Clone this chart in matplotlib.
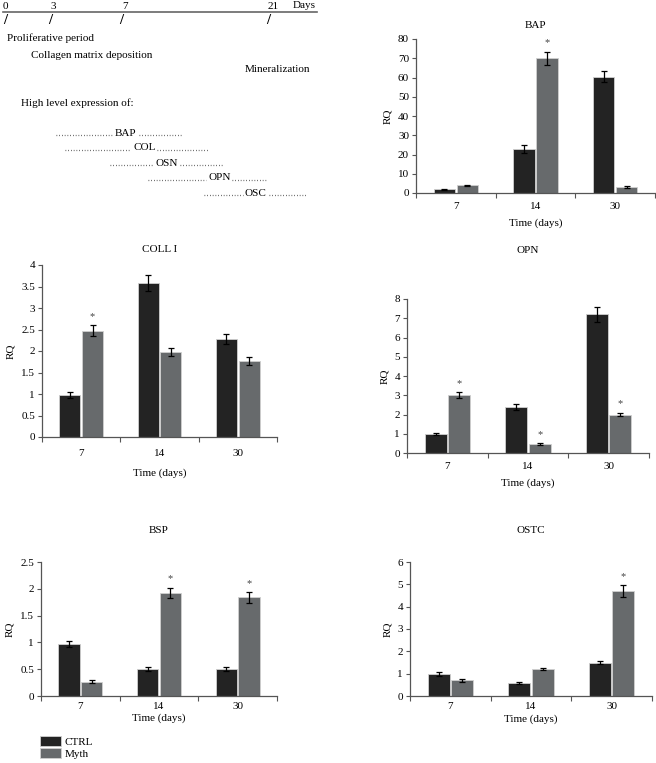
import matplotlib
matplotlib.use("Agg")
import matplotlib.pyplot as plt
from matplotlib.patches import Patch
import numpy as np

plt.rcParams['font.family'] = ['Liberation Serif', 'DejaVu Serif']

# ---------------- data ----------------
days = ["7", "14", "30"]
series_names = ["CTRL", "Myth"]

bap_ctrl = [2.0, 23.0, 60.5]
bap_ctrl_err = [0.3, 2.0, 3.0]
bap_myth = [4.0, 70.0, 3.0]
bap_myth_err = [0.3, 3.5, 0.4]
bap_star = [False, True, False]

col_ctrl = [0.97, 3.58, 2.28]
col_ctrl_err = [0.07, 0.18, 0.12]
col_myth = [2.47, 1.98, 1.77]
col_myth_err = [0.13, 0.10, 0.10]
col_star = [True, False, False]

opn_ctrl = [0.97, 2.40, 7.20]
opn_ctrl_err = [0.05, 0.15, 0.37]
opn_myth = [3.00, 0.45, 2.00]
opn_myth_err = [0.15, 0.06, 0.10]
opn_star = [True, True, True]

bsp_ctrl = [0.97, 0.51, 0.51]
bsp_ctrl_err = [0.05, 0.04, 0.04]
bsp_myth = [0.27, 1.92, 1.84]
bsp_myth_err = [0.03, 0.10, 0.10]
bsp_star = [False, True, True]

ostc_ctrl = [0.98, 0.58, 1.50]
ostc_ctrl_err = [0.08, 0.04, 0.08]
ostc_myth = [0.70, 1.20, 4.70]
ostc_myth_err = [0.06, 0.05, 0.25]
ostc_star = [False, False, True]

bap_ticks = [0, 10, 20, 30, 40, 50, 60, 70, 80]
col_ticks = [0, 0.5, 1, 1.5, 2, 2.5, 3, 3.5, 4]
col_ticklabels = ["0", "0.5", "1", "1.5", "2", "2.5", "3", "3.5", "4"]
opn_ticks = [0, 1, 2, 3, 4, 5, 6, 7, 8]
bsp_ticks = [0, 0.5, 1, 1.5, 2, 2.5]
bsp_ticklabels = ["0", "0.5", "1", "1.5", "2", "2.5"]
ostc_ticks = [0, 1, 2, 3, 4, 5, 6]

timeline_days = ["0", "3", "7", "21"]
phases = ["Proliferative period", "Collagen matrix deposition", "Mineralization"]
markers = ["BAP", "COL", "OSN", "OPN", "OSC"]

# ---------------- style ----------------
W, H = 656, 763
fig = plt.figure(figsize=(W / 100, H / 100), dpi=100)
C_CTRL = "#232323"
C_MYTH = "#676a6c"
AX_COL = "#555555"
FS = 8.0


def px_axes(l, r, t, b):
    return fig.add_axes([l / W, 1 - b / H, (r - l) / W, (b - t) / H])


def bar_panel(ax, title, title_gap, ctrl, ctrl_err, myth, myth_err, stars,
              yticks, yticklabels=None, tick_pad=6.5, label_pad=5):
    x = np.arange(len(days)) + 0.5
    bw = 0.27
    off = 0.145
    ax.bar(x - off, ctrl, bw, color=C_CTRL, edgecolor="#d0d0d0", linewidth=0.6,
           yerr=ctrl_err, error_kw=dict(ecolor="black", elinewidth=0.9, capsize=2.2, capthick=0.9),
           label=series_names[0], zorder=2)
    ax.bar(x + off, myth, bw, color=C_MYTH, edgecolor="#d0d0d0", linewidth=0.6,
           yerr=myth_err, error_kw=dict(ecolor="black", elinewidth=0.9, capsize=2.2, capthick=0.9),
           label=series_names[1], zorder=2)
    for xi, v, e, s in zip(x, myth, myth_err, stars):
        if s:
            ax.annotate("*", (xi + off, v + e), xytext=(0, 3), textcoords="offset points",
                        ha="center", va="bottom", fontsize=7.5, color="#444444")
    ax.set_xlim(0, len(days))
    ax.set_ylim(yticks[0], yticks[-1])
    ax.set_yticks(yticks)
    if yticklabels is not None:
        ax.set_yticklabels(yticklabels)
    ax.set_xticks(x)
    ax.set_xticklabels(days)
    ax.set_xticks(np.arange(len(days) + 1), minor=True)
    ax.tick_params(axis="x", which="major", length=0, pad=tick_pad, labelsize=FS)
    ax.tick_params(axis="x", which="minor", length=3.5, direction="out", color=AX_COL, width=0.8)
    ax.tick_params(axis="y", length=3, color=AX_COL, width=0.8, labelsize=FS, pad=2)
    for sp in ["top", "right"]:
        ax.spines[sp].set_visible(False)
    for sp in ["left", "bottom"]:
        ax.spines[sp].set_color(AX_COL)
        ax.spines[sp].set_linewidth(0.9)
    ax.set_xlabel("Time (days)", fontsize=FS, labelpad=label_pad)
    ax.set_ylabel("RQ", fontsize=FS, labelpad=4)
    ax.set_title(title, fontsize=FS, pad=title_gap)


ax_bap = px_axes(416, 655, 39, 193)
bar_panel(ax_bap, "BAP", 8, bap_ctrl, bap_ctrl_err, bap_myth, bap_myth_err, bap_star, bap_ticks)

ax_col = px_axes(42, 277, 265, 437)
bar_panel(ax_col, "COLL I", 9, col_ctrl, col_ctrl_err, col_myth, col_myth_err, col_star,
          col_ticks, col_ticklabels, tick_pad=9, label_pad=7)

ax_opn = px_axes(407, 649, 299, 453)
bar_panel(ax_opn, "OPN", 33, opn_ctrl, opn_ctrl_err, opn_myth, opn_myth_err, opn_star, opn_ticks)

ax_bsp = px_axes(41, 277, 562, 696)
bar_panel(ax_bsp, "BSP", 21, bsp_ctrl, bsp_ctrl_err, bsp_myth, bsp_myth_err, bsp_star,
          bsp_ticks, bsp_ticklabels, tick_pad=4, label_pad=2)

ax_ostc = px_axes(410, 652, 562, 696)
bar_panel(ax_ostc, "OSTC", 21, ostc_ctrl, ostc_ctrl_err, ostc_myth, ostc_myth_err, ostc_star,
          ostc_ticks, tick_pad=4.5, label_pad=2.5)

# legend
handles = [Patch(facecolor=C_CTRL, edgecolor="#d0d0d0", linewidth=0.6),
           Patch(facecolor=C_MYTH, edgecolor="#d0d0d0", linewidth=0.6)]
fig.legend(handles, series_names, loc="upper left",
           bbox_to_anchor=(40 / W, 1 - 736 / H), frameon=False, fontsize=FS,
           handlelength=1.9, handleheight=1.0, handletextpad=0.3, labelspacing=0.1,
           borderaxespad=0, borderpad=0)

# ---------------- timeline panel ----------------
tl = fig.add_axes([0, 1 - 240 / H, 330 / W, 240 / H])
tl.set_xlim(0, 330)
tl.set_ylim(240, 0)
tl.axis("off")
tl.plot([3, 317], [11.5, 11.5], color="#666666", lw=1.2)
day_x = [3, 53, 125, 273]
slash_x = [5, 50, 121, 268]
for d, xd, xs in zip(timeline_days, day_x, slash_x):
    tl.text(xd, 9, d, fontsize=FS, ha="center" if d != "0" else "left", va="baseline")
    tl.text(xs, 20.5, "/", fontsize=10.5, ha="center", va="center", fontweight="bold")
tl.text(316, 8, "Days", fontsize=FS, ha="right", va="baseline")
tl.text(7, 38, phases[0], fontsize=FS, va="center")
tl.text(31, 55, phases[1], fontsize=FS, va="center")
tl.text(310, 70, phases[2], fontsize=FS, va="center", ha="right")
tl.text(21, 103, "High level expression of:", fontsize=FS, va="center")
mk_left = [56, 65, 110, 148, 204]
mk_right = [183, 209, 223, 267, 307]
mk_y = [133, 148, 163, 178, 193]
mk_pos = [0.55, 0.55, 0.5, 0.6, 0.5]
for m, l, r, y, p in zip(markers, mk_left, mk_right, mk_y, mk_pos):
    c = l + (r - l) * p
    tl.plot([l, c - 13], [y + 2, y + 2], ls=(0, (0.6, 1.6)), color="#444444", lw=0.9)
    tl.plot([c + 13, r], [y + 2, y + 2], ls=(0, (0.6, 1.6)), color="#444444", lw=0.9)
    tl.text(c, y, m, fontsize=FS, ha="center", va="center")

fig.savefig("out.png", dpi=100)
